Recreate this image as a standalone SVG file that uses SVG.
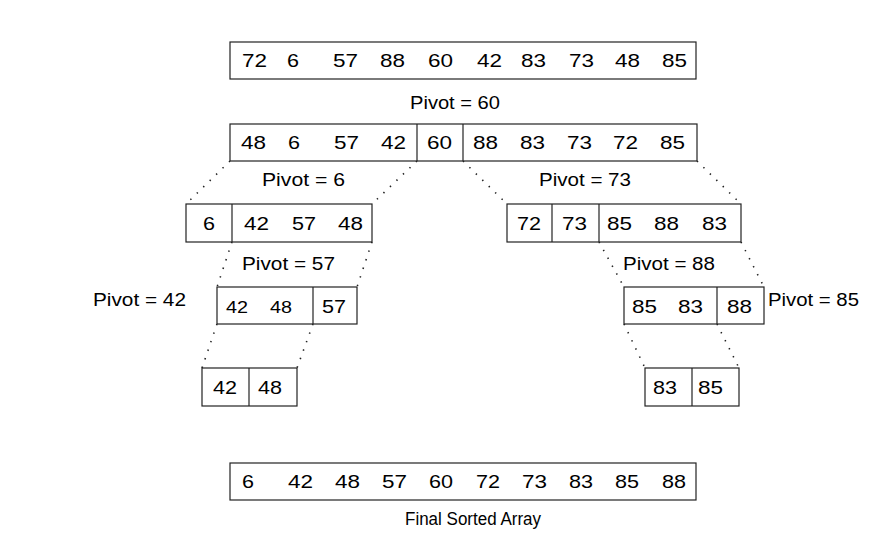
<svg xmlns="http://www.w3.org/2000/svg" width="884" height="555" viewBox="0 0 884 555">
<style>
.box{fill:#fff;stroke:#222;stroke-width:1.2}
.div{stroke:#222;stroke-width:1.2}
.n{font-family:"Liberation Sans",Arial,sans-serif;font-size:19px;fill:#000}
.s{font-family:"Liberation Sans",Arial,sans-serif;font-size:17px;fill:#000}
.lbl{font-family:"Liberation Sans",Arial,sans-serif;font-size:17.5px;fill:#000}
.dot{stroke:#222;stroke-width:1.6;stroke-dasharray:1.4 7.6;fill:none}
</style>
<rect width="884" height="555" fill="#fff"/>
<g id="connectors">
<line class="dot" x1="230" y1="161" x2="186" y2="204"/>
<line class="dot" x1="417" y1="161" x2="372" y2="204"/>
<line class="dot" x1="463" y1="161" x2="507" y2="204"/>
<line class="dot" x1="697" y1="161" x2="741" y2="204"/>
<line class="dot" x1="232" y1="242" x2="217" y2="287"/>
<line class="dot" x1="372" y1="242" x2="357" y2="287"/>
<line class="dot" x1="599" y1="242" x2="624" y2="287"/>
<line class="dot" x1="741" y1="242" x2="764" y2="287"/>
<line class="dot" x1="217" y1="324" x2="202" y2="368"/>
<line class="dot" x1="313" y1="324" x2="297" y2="368"/>
<line class="dot" x1="624" y1="324" x2="645" y2="368"/>
<line class="dot" x1="717" y1="324" x2="739" y2="368"/>
</g>
<g id="initial">
<rect class="box" x="230" y="42" width="466" height="37"/>
<text class="n" x="242" y="67" textLength="25" lengthAdjust="spacingAndGlyphs">72</text>
<text class="n" x="287" y="67" textLength="12" lengthAdjust="spacingAndGlyphs">6</text>
<text class="n" x="333" y="67" textLength="25" lengthAdjust="spacingAndGlyphs">57</text>
<text class="n" x="380" y="67" textLength="25" lengthAdjust="spacingAndGlyphs">88</text>
<text class="n" x="428" y="67" textLength="25" lengthAdjust="spacingAndGlyphs">60</text>
<text class="n" x="477" y="67" textLength="25" lengthAdjust="spacingAndGlyphs">42</text>
<text class="n" x="521" y="67" textLength="25" lengthAdjust="spacingAndGlyphs">83</text>
<text class="n" x="569" y="67" textLength="25" lengthAdjust="spacingAndGlyphs">73</text>
<text class="n" x="615" y="67" textLength="25" lengthAdjust="spacingAndGlyphs">48</text>
<text class="n" x="662" y="67" textLength="25" lengthAdjust="spacingAndGlyphs">85</text>
</g>
<g id="label-p60"><text class="lbl" x="410" y="109" textLength="90" lengthAdjust="spacingAndGlyphs">Pivot = 60</text></g>
<g id="level1">
<rect class="box" x="230" y="124" width="467" height="37"/>
<line class="div" x1="417" y1="124" x2="417" y2="161"/>
<line class="div" x1="463" y1="124" x2="463" y2="161"/>
<text class="n" x="241" y="149" textLength="25" lengthAdjust="spacingAndGlyphs">48</text>
<text class="n" x="288" y="149" textLength="12" lengthAdjust="spacingAndGlyphs">6</text>
<text class="n" x="334" y="149" textLength="25" lengthAdjust="spacingAndGlyphs">57</text>
<text class="n" x="381" y="149" textLength="25" lengthAdjust="spacingAndGlyphs">42</text>
<text class="n" x="427" y="149" textLength="25" lengthAdjust="spacingAndGlyphs">60</text>
<text class="n" x="473" y="149" textLength="25" lengthAdjust="spacingAndGlyphs">88</text>
<text class="n" x="520" y="149" textLength="25" lengthAdjust="spacingAndGlyphs">83</text>
<text class="n" x="567" y="149" textLength="25" lengthAdjust="spacingAndGlyphs">73</text>
<text class="n" x="613" y="149" textLength="25" lengthAdjust="spacingAndGlyphs">72</text>
<text class="n" x="660" y="149" textLength="25" lengthAdjust="spacingAndGlyphs">85</text>
</g>
<g id="label-p6"><text class="lbl" x="262" y="186" textLength="83" lengthAdjust="spacingAndGlyphs">Pivot = 6</text></g>
<g id="label-p73"><text class="lbl" x="539" y="186" textLength="92" lengthAdjust="spacingAndGlyphs">Pivot = 73</text></g>
<g id="level2-left">
<rect class="box" x="186" y="204" width="186" height="38"/>
<line class="div" x1="232" y1="204" x2="232" y2="242"/>
<text class="n" x="203" y="230" textLength="12" lengthAdjust="spacingAndGlyphs">6</text>
<text class="n" x="244" y="230" textLength="25" lengthAdjust="spacingAndGlyphs">42</text>
<text class="n" x="292" y="230" textLength="24" lengthAdjust="spacingAndGlyphs">57</text>
<text class="n" x="338" y="230" textLength="25" lengthAdjust="spacingAndGlyphs">48</text>
</g>
<g id="level2-right">
<rect class="box" x="507" y="204" width="234" height="38"/>
<line class="div" x1="552" y1="204" x2="552" y2="242"/>
<line class="div" x1="599" y1="204" x2="599" y2="242"/>
<text class="n" x="517" y="230" textLength="24" lengthAdjust="spacingAndGlyphs">72</text>
<text class="n" x="562" y="230" textLength="25" lengthAdjust="spacingAndGlyphs">73</text>
<text class="n" x="607" y="230" textLength="25" lengthAdjust="spacingAndGlyphs">85</text>
<text class="n" x="654" y="230" textLength="25" lengthAdjust="spacingAndGlyphs">88</text>
<text class="n" x="702" y="230" textLength="25" lengthAdjust="spacingAndGlyphs">83</text>
</g>
<g id="label-p57"><text class="lbl" x="242" y="270" textLength="93" lengthAdjust="spacingAndGlyphs">Pivot = 57</text></g>
<g id="label-p88"><text class="lbl" x="623" y="270" textLength="92" lengthAdjust="spacingAndGlyphs">Pivot = 88</text></g>
<g id="label-p42"><text class="lbl" x="93" y="306" textLength="93" lengthAdjust="spacingAndGlyphs">Pivot = 42</text></g>
<g id="label-p85"><text class="lbl" x="768" y="306" textLength="91" lengthAdjust="spacingAndGlyphs">Pivot = 85</text></g>
<g id="level3-left">
<rect class="box" x="217" y="287" width="140" height="37"/>
<line class="div" x1="313" y1="287" x2="313" y2="324"/>
<text class="s" x="226" y="313" textLength="22" lengthAdjust="spacingAndGlyphs">42</text>
<text class="s" x="270" y="313" textLength="22" lengthAdjust="spacingAndGlyphs">48</text>
<text class="n" x="322" y="313" textLength="24" lengthAdjust="spacingAndGlyphs">57</text>
</g>
<g id="level3-right">
<rect class="box" x="624" y="287" width="140" height="37"/>
<line class="div" x1="717" y1="287" x2="717" y2="324"/>
<text class="n" x="632" y="313" textLength="25" lengthAdjust="spacingAndGlyphs">85</text>
<text class="n" x="678" y="313" textLength="25" lengthAdjust="spacingAndGlyphs">83</text>
<text class="n" x="727" y="313" textLength="25" lengthAdjust="spacingAndGlyphs">88</text>
</g>
<g id="level4-left">
<rect class="box" x="202" y="368" width="95" height="38"/>
<line class="div" x1="249" y1="368" x2="249" y2="406"/>
<text class="n" x="213" y="394" textLength="24" lengthAdjust="spacingAndGlyphs">42</text>
<text class="n" x="258" y="394" textLength="24" lengthAdjust="spacingAndGlyphs">48</text>
</g>
<g id="level4-right">
<rect class="box" x="645" y="368" width="94" height="38"/>
<line class="div" x1="692" y1="368" x2="692" y2="406"/>
<text class="n" x="653" y="394" textLength="24" lengthAdjust="spacingAndGlyphs">83</text>
<text class="n" x="698" y="394" textLength="25" lengthAdjust="spacingAndGlyphs">85</text>
</g>
<g id="final">
<rect class="box" x="230" y="463" width="466" height="37"/>
<text class="n" x="242" y="488" textLength="12" lengthAdjust="spacingAndGlyphs">6</text>
<text class="n" x="288" y="488" textLength="25" lengthAdjust="spacingAndGlyphs">42</text>
<text class="n" x="335" y="488" textLength="25" lengthAdjust="spacingAndGlyphs">48</text>
<text class="n" x="382" y="488" textLength="25" lengthAdjust="spacingAndGlyphs">57</text>
<text class="n" x="429" y="488" textLength="24" lengthAdjust="spacingAndGlyphs">60</text>
<text class="n" x="476" y="488" textLength="24" lengthAdjust="spacingAndGlyphs">72</text>
<text class="n" x="522" y="488" textLength="25" lengthAdjust="spacingAndGlyphs">73</text>
<text class="n" x="569" y="488" textLength="24" lengthAdjust="spacingAndGlyphs">83</text>
<text class="n" x="615" y="488" textLength="24" lengthAdjust="spacingAndGlyphs">85</text>
<text class="n" x="662" y="488" textLength="24" lengthAdjust="spacingAndGlyphs">88</text>
</g>
<g id="label-final"><text class="lbl" x="405" y="525" font-size="16.5" textLength="136" lengthAdjust="spacingAndGlyphs">Final Sorted Array</text></g>
</svg>
